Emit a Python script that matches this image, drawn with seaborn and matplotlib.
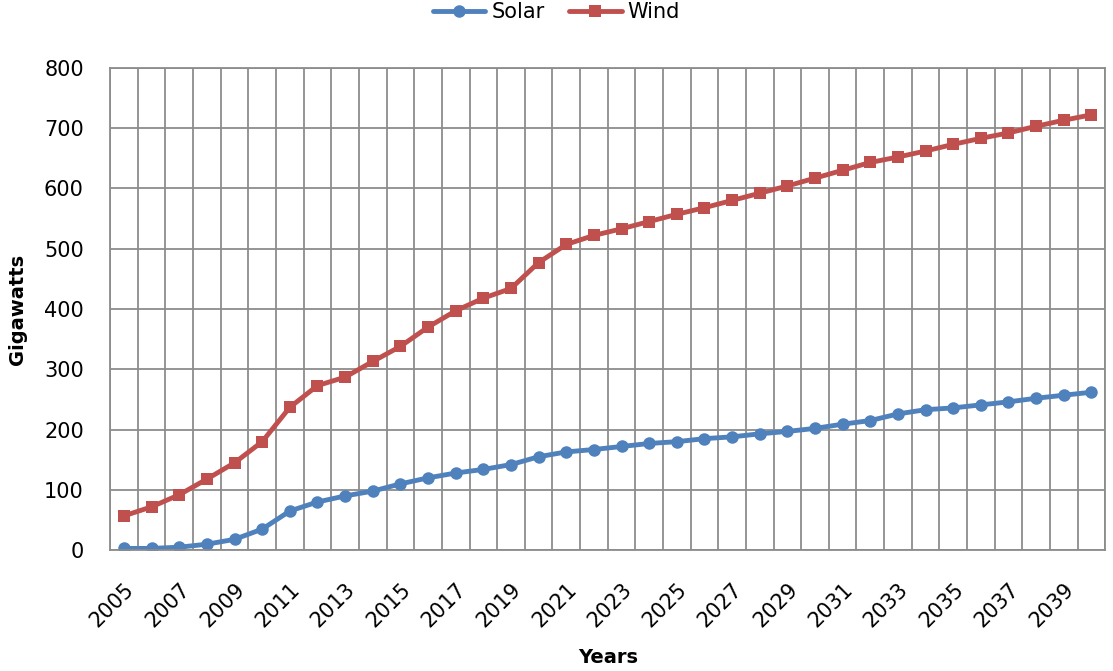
import numpy as np
import pandas as pd
import matplotlib
matplotlib.use("Agg")
import matplotlib.pyplot as plt
import seaborn as sns

# data
years = list(range(2005, 2041))
solar = [3, 3, 5, 10, 18, 35, 65, 80, 90, 98, 110, 120, 128, 134, 142, 155,
         163, 167, 172, 177, 180, 185, 188, 193, 197, 202, 209, 215, 226, 233,
         236, 241, 246, 252, 257, 262]
wind = [57, 72, 92, 118, 145, 180, 237, 273, 287, 313, 338, 370, 397, 418,
        434, 477, 507, 522, 533, 545, 557, 568, 580, 592, 604, 617, 630, 643,
        652, 662, 673, 683, 692, 703, 713, 722]
series_names = ["Solar", "Wind"]
colors = ["#4F81BD", "#C0504D"]
y_ticks = list(range(0, 801, 100))
x_labels = list(range(2005, 2040, 2))

df = pd.DataFrame({
    "Year": years * 2,
    "Gigawatts": solar + wind,
    "Series": ["Solar"] * len(years) + ["Wind"] * len(years),
})

sns.set_style("white")
plt.rcParams["font.family"] = ["DejaVu Sans"]
plt.rcParams["text.color"] = "black"

fig = plt.figure(figsize=(11.13, 6.71), dpi=100)
ax = fig.add_axes([0.099, 0.180, 0.894, 0.719])

sns.lineplot(
    data=df, x="Year", y="Gigawatts", hue="Series", style="Series",
    hue_order=series_names, style_order=series_names,
    palette=colors, markers={"Solar": "o", "Wind": "s"}, dashes=False,
    linewidth=3.5, markersize=9, markeredgewidth=0, ax=ax,
)

ax.set_xlim(years[0] - 0.5, years[-1] + 0.5)
ax.set_ylim(0, 800)
ax.set_yticks(y_ticks)
ax.set_xticks(x_labels)
ax.set_xticks(np.arange(years[0] - 0.5, years[-1] + 1.0, 1.0), minor=True)
ax.set_xticklabels([str(y) for y in x_labels], rotation=45,
                   ha="right", rotation_mode="anchor", fontsize=15)
ax.tick_params(axis="x", which="major", length=0, pad=21, labelcolor="black")
ax.tick_params(axis="x", which="minor", length=6, color="#8c8c8c", width=1.2)
ax.tick_params(axis="y", labelsize=15, length=7, color="#8c8c8c", width=1.2,
               pad=12, labelcolor="black")

ax.grid(True, axis="y", which="major", color="#8c8c8c", linewidth=1.3)
ax.grid(True, axis="x", which="minor", color="#8c8c8c", linewidth=1.3)
ax.grid(False, axis="x", which="major")
ax.set_axisbelow(True)
for s in ax.spines.values():
    s.set_color("#8c8c8c")
    s.set_linewidth(1.3)

ax.set_xlabel("Years", fontsize=14, fontweight="bold", color="black")
ax.set_ylabel("Gigawatts", fontsize=14, fontweight="bold", color="black")
ax.xaxis.set_label_coords(0.5, -0.203)
ax.yaxis.set_label_coords(-0.084, 0.5)

handles, labels = ax.get_legend_handles_labels()
ax.legend_.remove()
fig.legend(handles, labels, loc="center", bbox_to_anchor=(0.5, 0.982),
           ncol=2, frameon=False, fontsize=15, handlelength=2.5,
           columnspacing=1.2, handletextpad=0.3, borderaxespad=0)

fig.savefig("out.png", dpi=100)
